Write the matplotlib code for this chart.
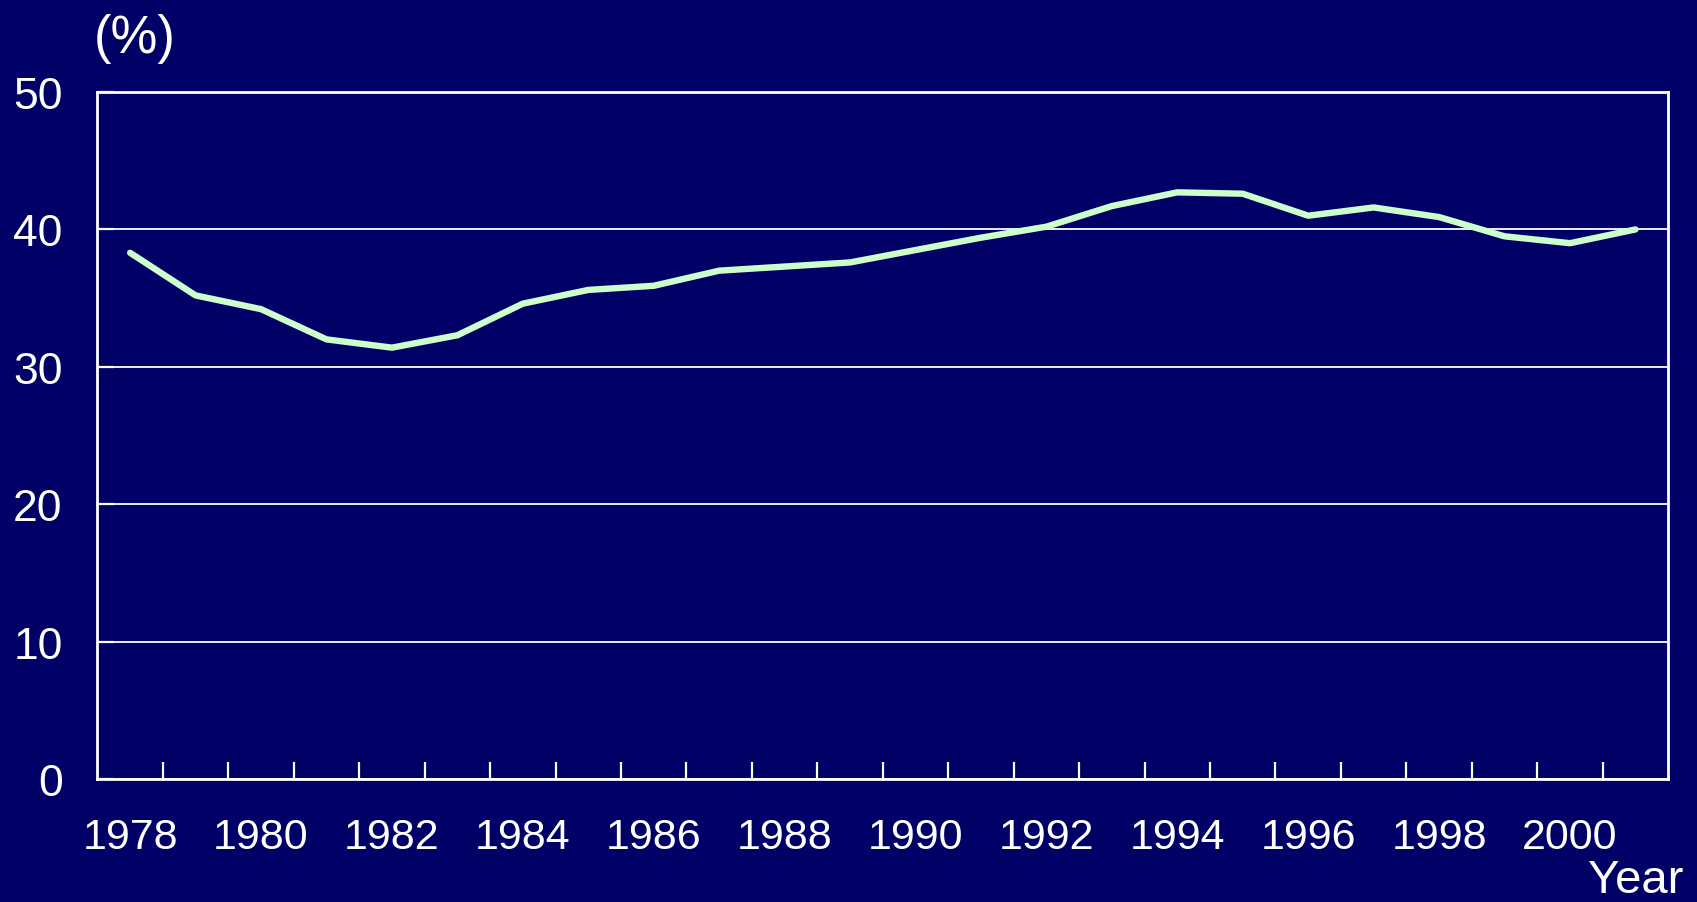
import numpy as np
import matplotlib.pyplot as plt

years = list(range(1978, 2002))
share = [38.3, 35.2, 34.2, 32.0, 31.4, 32.3, 34.6, 35.6, 35.9, 37.0, 37.3, 37.6,
         38.5, 39.4, 40.2, 41.7, 42.7, 42.6, 41.0, 41.6, 40.9, 39.5, 39.0, 40.0]
year_labels = [str(y) for y in years[::2]]

bg = "#000066"
fg = "white"
line_color = "#ccffcc"

plt.rcParams["font.family"] = ["Liberation Sans", "DejaVu Sans"]

fig = plt.figure(figsize=(16.97, 9.03), dpi=100, facecolor=bg)
ax = fig.add_axes([0.0574, 0.136, 0.9256, 0.761], facecolor=bg)

x = np.arange(len(years))
ax.plot(x, share, color=line_color, linewidth=4.6, solid_capstyle="round", zorder=3)

ax.set_xlim(-0.5, len(years) - 0.5)
ax.set_ylim(0, 50)

# category labels every second year, boundary ticks between categories
ax.set_xticks(x[::2], year_labels)
ax.set_xticks(np.arange(0.5, len(years) - 1, 1), minor=True)
ax.tick_params(axis="x", which="major", length=0, pad=27, labelsize=31, colors=fg)
ax.tick_params(axis="x", which="minor", direction="in", length=12, width=1.6, colors=fg)

ax.set_yticks(range(0, 51, 10))
ax.tick_params(axis="y", direction="in", length=12, width=1.6, pad=25, labelsize=32, colors=fg)
ax.yaxis.grid(True, color=fg, linewidth=1.3)
ax.set_axisbelow(True)

for s in ax.spines.values():
    s.set_color(fg)
    s.set_linewidth(2)

fig.text(0.055, 0.985, "(%)", color=fg, fontsize=38, ha="left", va="top")
fig.text(0.992, 0.0, "Year", color=fg, fontsize=34, ha="right", va="bottom")

fig.savefig("out.png", dpi=100, facecolor=bg)
